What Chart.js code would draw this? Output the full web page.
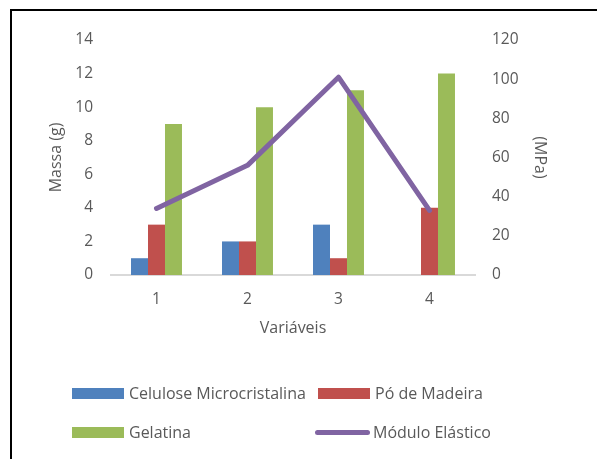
<!DOCTYPE html>
<html>
<head>
<meta charset="utf-8">
<script src="https://cdn.jsdelivr.net/npm/chart.js@4.4.0/dist/chart.umd.min.js"></script>
<style>
    body { margin: 0; background: #fff; font-family: "Open Sans", sans-serif; }
    #wrap { position: relative; width: 597px; height: 459px; overflow: hidden; }
    #frame { position: absolute; left: 10px; top: 9px; width: 700px; height: 600px; border-left: 2px solid #000; border-top: 2px solid #000; }
    #chartBox { position: absolute; left: 0; top: 0; width: 597px; height: 345px; }
    #legend { position: absolute; left: 0; top: 0; width: 597px; height: 459px; }
    .item { position: absolute; display: flex; align-items: center; color: #595959; font-size: 16px; white-space: nowrap; }
    .swatch { width: 52px; height: 11px; margin-right: 5px; }
    .swatch.line { width: 55px; height: 5px; border-radius: 3px; margin-left: -3px; margin-right: 3px; }
</style>
</head>
<body>
<div id="wrap">
    <div id="frame"></div>
    <div id="chartBox"><canvas id="comboChart"></canvas></div>
    <div id="legend"></div>
</div>
<script>
// Data
const categories = ['1', '2', '3', '4'];
const celulose = [1, 2, 3, 0];
const poMadeira = [3, 2, 1, 4];
const gelatina = [9, 10, 11, 12];
const moduloElastico = [34, 56, 101, 33];

const textColor = '#595959';
const font = { family: 'Open Sans', size: 15.5 };
const titleFont = { family: 'Open Sans', size: 16 };

const ctx = document.getElementById('comboChart').getContext('2d');
const comboChart = new Chart(ctx, {
    type: 'bar',
    data: {
        labels: categories,
        datasets: [
            { label: 'Celulose Microcristalina', data: celulose, backgroundColor: '#4F81BD', yAxisID: 'y', order: 1 },
            { label: 'Pó de Madeira', data: poMadeira, backgroundColor: '#C0504D', yAxisID: 'y', order: 1 },
            { label: 'Gelatina', data: gelatina, backgroundColor: '#9BBB59', yAxisID: 'y', order: 1 },
            {
                type: 'line', label: 'Módulo Elástico', data: moduloElastico,
                borderColor: '#8064A2', backgroundColor: '#8064A2', borderWidth: 5,
                borderCapStyle: 'round', borderJoinStyle: 'round',
                pointRadius: 0, tension: 0, yAxisID: 'y1', order: 0
            }
        ]
    },
    options: {
        responsive: true,
        maintainAspectRatio: false,
        animation: false,
        datasets: { bar: { categoryPercentage: 0.56, barPercentage: 1 } },
        layout: { padding: { left: 45, right: 42, top: 40, bottom: 0 } },
        plugins: { legend: { display: false }, tooltip: { enabled: false } },
        scales: {
            x: {
                grid: { display: false, drawTicks: false },
                border: { display: true, color: '#D9D9D9', width: 2 },
                ticks: { color: textColor, font: font, padding: 15 },
                title: { display: true, text: 'Variáveis', color: textColor, font: titleFont, padding: { top: 6, bottom: 7 } },
                afterFit: (scale) => { scale.height = 70; }
            },
            y: {
                position: 'left',
                min: 0, max: 14,
                grid: { display: false, drawTicks: false },
                border: { display: false },
                ticks: { stepSize: 2, color: textColor, font: font, padding: 18 },
                title: { display: true, text: 'Massa (g)', color: textColor, font: titleFont, padding: { top: 2, bottom: 0 } },
                afterFit: (scale) => { scale.width = 66; }
            },
            y1: {
                position: 'right',
                min: 0, max: 120,
                grid: { display: false, drawTicks: false },
                border: { display: false },
                ticks: { stepSize: 20, color: textColor, font: font, padding: 17 },
                title: { display: true, text: '(MPa)', color: textColor, font: titleFont, padding: { top: 6, bottom: 0 } },
                afterFit: (scale) => { scale.width = 80; }
            }
        }
    }
});

// Legend laid out in two columns like the original
const legendPos = [
    { x: 72, y: 393 }, { x: 318, y: 393 },
    { x: 72, y: 432 }, { x: 318, y: 432 }
];
const legendEl = document.getElementById('legend');
comboChart.data.datasets.forEach((ds, i) => {
    const item = document.createElement('div');
    item.className = 'item';
    item.style.left = legendPos[i].x + 'px';
    item.style.top = (legendPos[i].y - 10) + 'px';
    item.style.height = '20px';
    const sw = document.createElement('span');
    sw.className = ds.type === 'line' ? 'swatch line' : 'swatch';
    sw.style.background = ds.backgroundColor;
    const txt = document.createElement('span');
    txt.textContent = ds.label;
    item.appendChild(sw);
    item.appendChild(txt);
    legendEl.appendChild(item);
});
</script>
</body>
</html>
